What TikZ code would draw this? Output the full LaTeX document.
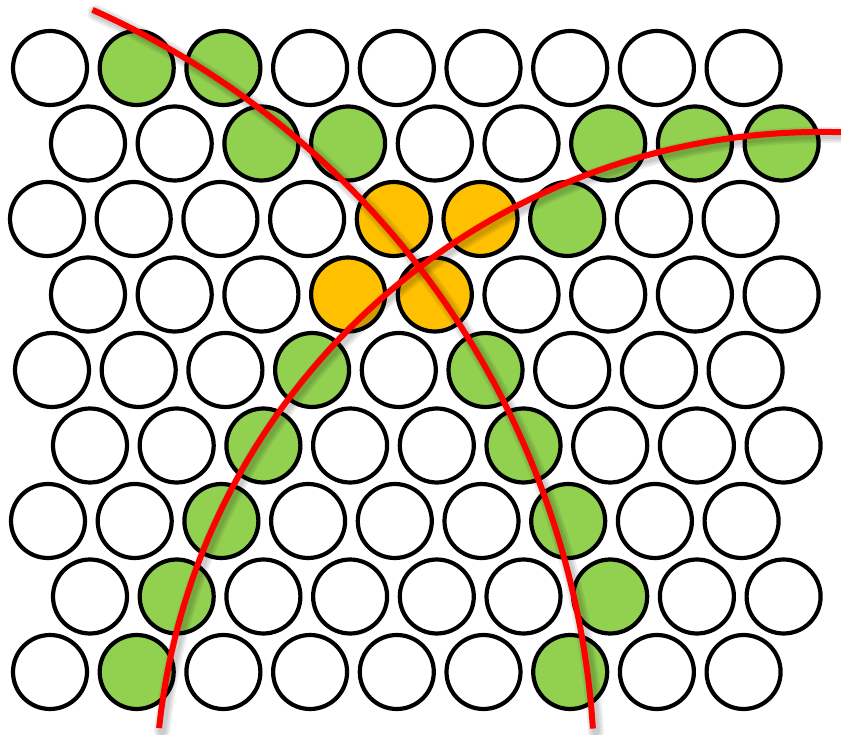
\documentclass[tikz,border=0pt]{standalone}
\definecolor{poregreen}{HTML}{92D050}
\definecolor{poreorange}{HTML}{FFC000}
\tikzset{
  pore/.style={circle,draw=black,line width=4.2pt,minimum size=74pt,inner sep=0pt},
  blank/.style={fill=white},
  onring/.style={fill=poregreen},
  oncross/.style={fill=poreorange},
  ray/.style={red,line width=6pt},
  rayshade/.style={black,opacity=0.07,line cap=round},
}

\begin{document}
\begin{tikzpicture}[x=1pt,y=1pt]
  \useasboundingbox (0,0) rectangle (841,734);
  % pores, row by row
  \foreach \r/\xo/\cols in {
      1/50/{blank,onring,onring,blank,blank,blank,blank,blank,blank},
      2/88/{blank,blank,onring,onring,blank,blank,onring,onring,onring},
      3/47/{blank,blank,blank,blank,oncross,oncross,onring,blank,blank},
      4/88/{blank,blank,blank,oncross,oncross,blank,blank,blank,blank},
      5/52/{blank,blank,blank,onring,blank,onring,blank,blank,blank},
      6/90/{blank,blank,onring,blank,blank,onring,blank,blank,blank},
      7/48/{blank,blank,onring,blank,blank,blank,onring,blank,blank},
      8/90/{blank,onring,blank,blank,blank,blank,onring,blank,blank},
      9/50/{blank,onring,blank,blank,blank,blank,onring,blank,blank}}
    \foreach \c [count=\k] in \cols
      \node[pore,\c] (p\r-\k) at ({\xo+86.7*(\k-1)},{666-75.5*(\r-1)}) {};
  % soft shadow under the two rings
  \foreach \w in {16,12,8}{
    \draw[rayshade,line width=\w pt,shift={(3,-3)}]
      (-251.8,-49.2) ++(66:846.5) arc[start angle=66,end angle=3.7,radius=846.5];
    \draw[rayshade,line width=\w pt,shift={(3,-3)}]
      (822.3,-64.9) ++(173.9:667) arc[start angle=173.9,end angle=88.4,radius=667];
  }
  % rings
  \draw[ray] (-251.8,-49.2) ++(66:846.5) arc[start angle=66,end angle=3.7,radius=846.5];
  \draw[ray] (822.3,-64.9) ++(173.9:667) arc[start angle=173.9,end angle=88.4,radius=667];
\end{tikzpicture}
\end{document}
